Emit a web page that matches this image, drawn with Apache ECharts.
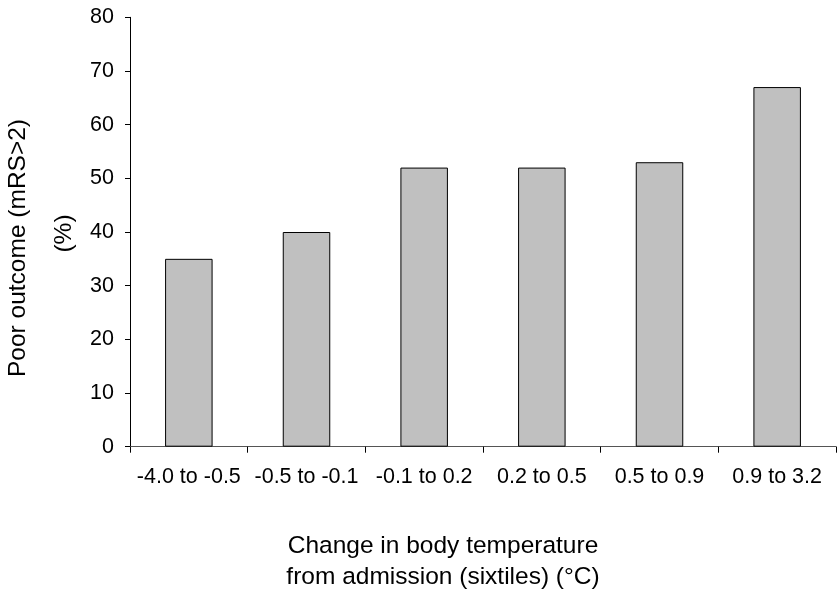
<!DOCTYPE html>
<html>
<head>
<meta charset="utf-8">
<script src="https://cdn.jsdelivr.net/npm/echarts@6/dist/echarts.min.js"></script>
<style>html,body{margin:0;padding:0;background:#fff;}#c{width:837px;height:593px;}</style>
</head>
<body>
<div id="c"></div>
<script>
const categories = ['-4.0 to -0.5', '-0.5 to -0.1', '-0.1 to 0.2', '0.2 to 0.5', '0.5 to 0.9', '0.9 to 3.2'];
const poorOutcome = [35, 40, 52, 52, 53, 67];
const yTicks = { min: 0, max: 80, interval: 10 };
const yTitleLine1 = 'Poor outcome (mRS>2)';
const yTitleLine2 = '(%)';
const xTitleLine1 = 'Change in body temperature';
const xTitleLine2 = 'from admission (sixtiles) (\u00B0C)';

const FONT = "'Liberation Sans', Arial, sans-serif";
const chart = echarts.init(document.getElementById('c'), null, { renderer: 'canvas' });
chart.setOption({
  animation: false,
  backgroundColor: '#ffffff',
  grid: { left: 130, top: 17.3, width: 706, height: 429.4, containLabel: false },
  xAxis: {
    type: 'category',
    data: categories,
    boundaryGap: true,
    axisLine: { show: true, lineStyle: { color: '#555555', width: 1 } },
    axisTick: { show: true, length: 6, lineStyle: { color: '#000000' } },
    axisLabel: { color: '#000000', fontSize: 21.5, fontFamily: FONT, margin: 19, interval: 0 },
    splitLine: { show: false }
  },
  yAxis: {
    type: 'value',
    min: yTicks.min, max: yTicks.max, interval: yTicks.interval,
    axisLine: { show: true, lineStyle: { color: '#000000', width: 1 } },
    axisTick: { show: true, length: 5, inside: false, lineStyle: { color: '#000000' } },
    axisLabel: { color: '#000000', fontSize: 21.5, fontFamily: FONT, margin: 16 },
    splitLine: { show: false }
  },
  series: [{
    type: 'bar',
    data: poorOutcome,
    barWidth: 47.5,
    itemStyle: { color: '#c0c0c0', borderColor: '#000000', borderWidth: 1 }
  }],
  graphic: [
    { type: 'text', x: 18, y: 248, rotation: Math.PI / 2,
      style: { text: yTitleLine1, fill: '#000', font: '24.5px ' + FONT, textAlign: 'center', textVerticalAlign: 'middle' } },
    { type: 'text', x: 64, y: 233.5, rotation: Math.PI / 2,
      style: { text: yTitleLine2, fill: '#000', font: '24.5px ' + FONT, textAlign: 'center', textVerticalAlign: 'middle' } },
    { type: 'text', x: 443, y: 546,
      style: { text: xTitleLine1, fill: '#000', font: '24.5px ' + FONT, textAlign: 'center', textVerticalAlign: 'middle' } },
    { type: 'text', x: 443, y: 577,
      style: { text: xTitleLine2, fill: '#000', font: '24.5px ' + FONT, textAlign: 'center', textVerticalAlign: 'middle' } }
  ]
});
</script>
</body>
</html>
